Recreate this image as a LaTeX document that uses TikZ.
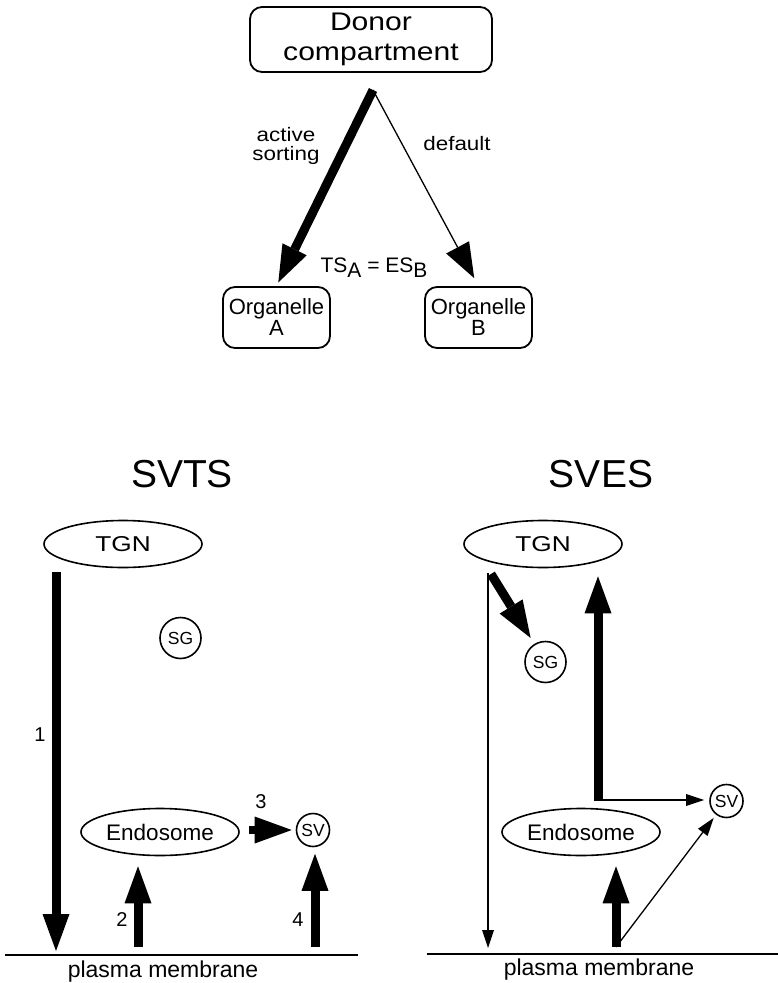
\documentclass[tikz,border=0pt]{standalone}
\usepackage{fontspec}
\usepackage{graphicx}
\setmainfont{Liberation Sans}
\newfontfamily\wideA[FakeStretch=1.18]{Liberation Sans}
\newfontfamily\wideB[FakeStretch=1.15]{Liberation Sans}
\newfontfamily\wideC[FakeStretch=1.22]{Liberation Sans}
\usetikzlibrary{arrows.meta,shapes.geometric}
\begin{document}
\begin{tikzpicture}[x=1pt,y=-1pt,
  box/.style={draw,line width=1.8pt,rounded corners=12pt,inner sep=0pt,align=center},
  org/.style={ellipse,draw,line width=1.6pt,minimum width=158pt,minimum height=47pt,inner sep=0pt},
  ves/.style={circle,draw,line width=1.6pt,inner sep=0pt,font=\fontsize{17.5}{18}\selectfont},
  bigarrow/.style={line width=9pt,-{Triangle[length=37pt,width=27pt,line width=0pt]}},
  thinbig/.style={line width=1.3pt,-{Triangle[length=35pt,width=26pt,line width=0pt]}},
  thinarrow/.style={line width=1.3pt,-{Triangle[length=18pt,width=12pt,line width=0pt]}},
  lbl/.style={inner sep=0pt,anchor=base},
  num/.style={inner sep=0pt,font=\fontsize{20}{20}\selectfont},
  membrane/.style={line width=2pt},
]
\useasboundingbox (0,0) rectangle (778,983);

% ---- top scheme ----
\node[box,minimum width=242pt,minimum height=65pt,font=\wideA\fontsize{25.5}{30}\selectfont] (donor) at (371,39.5) {Donor\\compartment};
\coordinate (apex) at (373,90);
\node[box,minimum width=107pt,minimum height=61pt,font=\fontsize{22}{21}\selectfont] (orgA) at (276.5,317.5) {Organelle\\A};
\node[box,minimum width=107pt,minimum height=61pt,font=\fontsize{22}{21}\selectfont] (orgB) at (478.5,317.5) {Organelle\\B};
\draw[bigarrow,shorten >=4pt] (apex) -- (orgA.north);
\draw[thinbig,shorten >=9pt] (apex) -- (orgB.north);
\node[inner sep=0pt,align=center,font=\wideB\fontsize{19.5}{19}\selectfont] (lactive) at (286,146) {active\\sorting};
\node[lbl,font=\wideB\fontsize{19.5}{19}\selectfont] (ldefault) at (457,150) {default};
\node[lbl,font=\fontsize{21}{21}\selectfont] (leq) at (374,272) {TS\raisebox{-5.5pt}{A} = ES\raisebox{-5.5pt}{B}};

% ---- titles ----
\node[lbl,font=\fontsize{39}{40}\selectfont] (svts) at (182,487) {SVTS};
\node[lbl,font=\fontsize{39}{40}\selectfont] (sves) at (601,487) {SVES};

% ---- left panel (SVTS) ----
\node[org,font=\wideC\fontsize{21.5}{22}\selectfont] (tgnL) at (123,544) {TGN};
\node[ves,minimum size=41pt] (sgL) at (180.5,638) {SG};
\node[org,font=\fontsize{22.5}{22}\selectfont] (endoL) at (160,832) {Endosome};
\node[ves,minimum size=33pt] (svL) at (313,830) {SV};
\coordinate (pmL1) at (5,955);
\coordinate (pmL2) at (358,955);
\draw[membrane] (pmL1) -- (pmL2);
\node[lbl,font=\fontsize{23}{23}\selectfont] (pmLlbl) at (163,977) {plasma membrane};

\coordinate (a1s) at (56,572);
\draw[bigarrow,shorten >=4pt] (a1s) -- (a1s |- pmL1);
\node[num] (n1) at (40,735) {1};
\coordinate (a2s) at (138,947);
\draw[bigarrow,shorten >=10pt] (a2s) -- (a2s |- endoL.south);
\node[num] (n2) at (122,920) {2};
\coordinate (a3s) at (249,830);
\draw[line width=8pt,-{Triangle[length=37pt,width=27pt,line width=0pt]},shorten >=4pt] (a3s) -- (svL.west);
\node[num] (n3) at (261,802) {3};
\coordinate (a4s) at (315,947);
\draw[bigarrow,shorten >=6.5pt] (a4s) -- (a4s |- svL.south);
\node[num] (n4) at (298,920) {4};

% ---- right panel (SVES) ----
\node[org,font=\wideC\fontsize{21.5}{22}\selectfont] (tgnR) at (543,544) {TGN};
\node[ves,minimum size=41pt] (sgR) at (545.5,662) {SG};
\node[org,font=\fontsize{22.5}{22}\selectfont] (endoR) at (581,832) {Endosome};
\node[ves,minimum size=33pt] (svR) at (726.5,801) {SV};
\coordinate (pmR1) at (427,954);
\coordinate (pmR2) at (778,954);
\draw[membrane] (pmR1) -- (pmR2);
\node[lbl,font=\fontsize{23}{23}\selectfont] (pmRlbl) at (599,975) {plasma membrane};

\coordinate (b1s) at (488,573);
\draw[thinarrow,shorten >=6pt] (b1s) -- (b1s |- pmR1);
\coordinate (b2s) at (491,574);
\draw[bigarrow,shorten >=7pt] (b2s) -- (sgR);
\coordinate (b3s) at (598,800);
\draw[bigarrow,shorten >=8pt] ([yshift=-1pt]b3s) -- (b3s |- tgnR.south);
\draw[thinarrow,shorten >=5pt] (b3s) -- (b3s -| svR.west);
\coordinate (b4s) at (616,947);
\draw[bigarrow,shorten >=10pt] (b4s) -- (b4s |- endoR.south);
\draw[thinarrow,shorten >=4pt] (b4s) -- (svR);
\end{tikzpicture}
\end{document}
